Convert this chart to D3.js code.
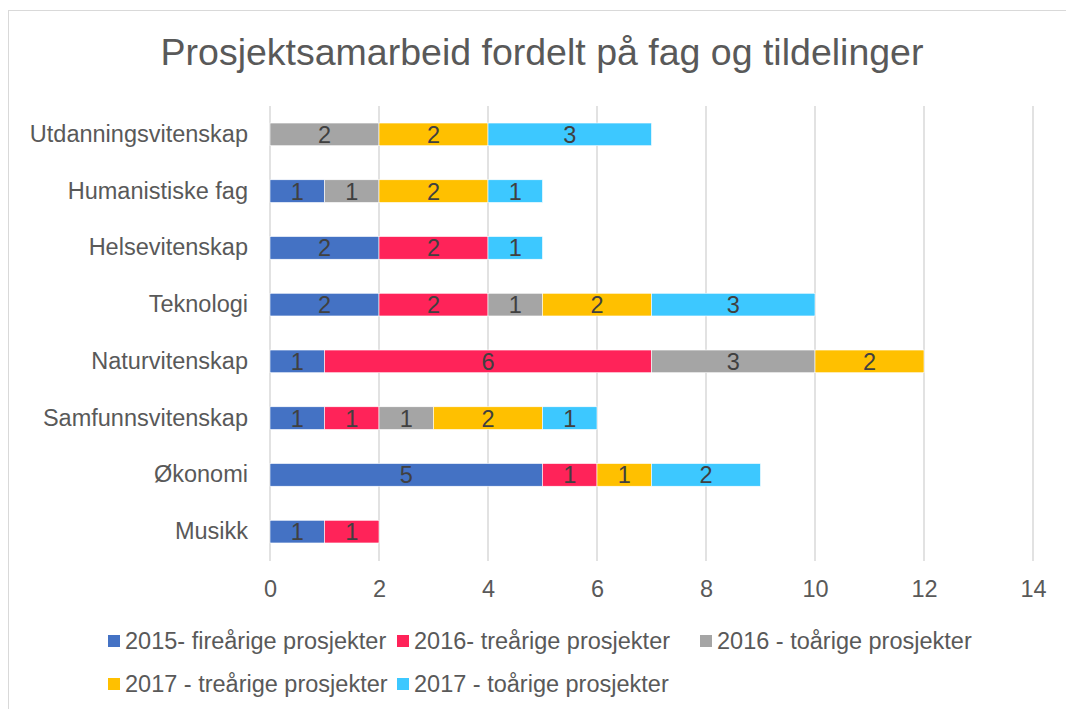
<!DOCTYPE html>
<html lang="no">
<head>
<meta charset="utf-8">
<title>Prosjektsamarbeid</title>
<style>
  body { margin: 0; background: #fff; }
  svg text { font-family: "Liberation Sans", Arial, sans-serif; }
</style>
</head>
<body>
<svg width="1066" height="709"></svg>
<script src="https://d3js.org/d3.v7.min.js"></script>
<script>
// data
var categories = ["Utdanningsvitenskap", "Humanistiske fag", "Helsevitenskap", "Teknologi",
                  "Naturvitenskap", "Samfunnsvitenskap", "Økonomi", "Musikk"];
var seriesNames = ["2015- fireårige prosjekter", "2016- treårige prosjekter", "2016 - toårige prosjekter",
                   "2017 - treårige prosjekter", "2017 - toårige prosjekter"];
var s2015four = [0, 1, 2, 2, 1, 1, 5, 1];
var s2016three = [0, 0, 2, 2, 6, 1, 1, 1];
var s2016two = [2, 1, 0, 1, 3, 1, 0, 0];
var s2017three = [2, 2, 0, 2, 2, 2, 1, 0];
var s2017two = [3, 1, 1, 3, 0, 1, 2, 0];
var xTicks = [0, 2, 4, 6, 8, 10, 12, 14];
var colors = ["#4472C4", "#FF2359", "#A5A5A5", "#FFC000", "#3DC8FF"];

var seriesValues = [s2015four, s2016three, s2016two, s2017three, s2017two];
var rows = categories.map(function(c, i) {
  var r = { cat: c };
  seriesNames.forEach(function(s, j) { r[s] = seriesValues[j][i]; });
  return r;
});

var svg = d3.select("svg");
var fs = 23.5;

// chart border
svg.append("rect")
  .attr("x", 8.5).attr("y", 10.5)
  .attr("width", 1070).attr("height", 720)
  .attr("fill", "#fff")
  .attr("stroke", "#d9d9d9").attr("stroke-width", 1);

svg.append("text")
  .attr("x", 542).attr("y", 65)
  .attr("text-anchor", "middle")
  .attr("font-size", 37.5)
  .attr("fill", "#595959")
  .text("Prosjektsamarbeid fordelt på fag og tildelinger");

var x = d3.scaleLinear().domain([0, 14]).range([270, 1033]);
var y = d3.scaleBand().domain(categories).range([106, 560]).paddingInner(0.6).paddingOuter(0.3);

// gridlines
svg.append("g").selectAll("line")
  .data(xTicks)
  .join("line")
  .attr("x1", function(d) { return x(d); })
  .attr("x2", function(d) { return x(d); })
  .attr("y1", 106).attr("y2", 561)
  .attr("stroke", "#d9d9d9")
  .attr("stroke-width", 1.5);

// x axis labels
var xAxis = d3.axisBottom(x).tickValues(xTicks).tickSize(0).tickPadding(0);
var gx = svg.append("g").attr("transform", "translate(0,580)").call(xAxis);
gx.select(".domain").remove();
gx.selectAll("text")
  .attr("font-size", fs)
  .attr("fill", "#595959")
  .attr("font-family", "Liberation Sans, Arial, sans-serif");

// category labels
var yAxis = d3.axisLeft(y).tickSize(0).tickPadding(0);
var gy = svg.append("g").attr("transform", "translate(248,0)").call(yAxis);
gy.select(".domain").remove();
gy.selectAll("text")
  .attr("font-size", fs)
  .attr("fill", "#595959")
  .attr("font-family", "Liberation Sans, Arial, sans-serif");

// stacked bars
var stack = d3.stack().keys(seriesNames)(rows);

var layer = svg.append("g").selectAll("g")
  .data(stack)
  .join("g")
  .attr("fill", function(d, i) { return colors[i]; });

layer.selectAll("rect")
  .data(function(d) { return d.filter(function(p) { return p[1] - p[0] > 0; }); })
  .join("rect")
  .attr("x", function(d) { return x(d[0]); })
  .attr("y", function(d) { return y(d.data.cat); })
  .attr("width", function(d) { return x(d[1]) - x(d[0]); })
  .attr("height", y.bandwidth())
  .attr("stroke", "#fff")
  .attr("stroke-width", 0.6);

layer.selectAll("text")
  .data(function(d) { return d.filter(function(p) { return p[1] - p[0] > 0; }); })
  .join("text")
  .attr("x", function(d) { return (x(d[0]) + x(d[1])) / 2; })
  .attr("y", function(d) { return y(d.data.cat) + y.bandwidth() / 2; })
  .attr("dy", "0.36em")
  .attr("text-anchor", "middle")
  .attr("font-size", fs)
  .attr("fill", "#404040")
  .text(function(d) { return d[1] - d[0]; });

// legend
var legendPos = [[108, 641], [397, 641], [700, 641], [108, 684], [397, 684]];
var legend = svg.append("g").selectAll("g")
  .data(seriesNames)
  .join("g")
  .attr("transform", function(d, i) { return "translate(" + legendPos[i][0] + "," + legendPos[i][1] + ")"; });

legend.append("rect")
  .attr("x", 0).attr("y", -6)
  .attr("width", 12).attr("height", 12)
  .attr("fill", function(d, i) { return colors[i]; });

legend.append("text")
  .attr("x", 17).attr("y", 0)
  .attr("dy", "0.36em")
  .attr("font-size", fs)
  .attr("fill", "#595959")
  .text(function(d) { return d; });
</script>
</body>
</html>
